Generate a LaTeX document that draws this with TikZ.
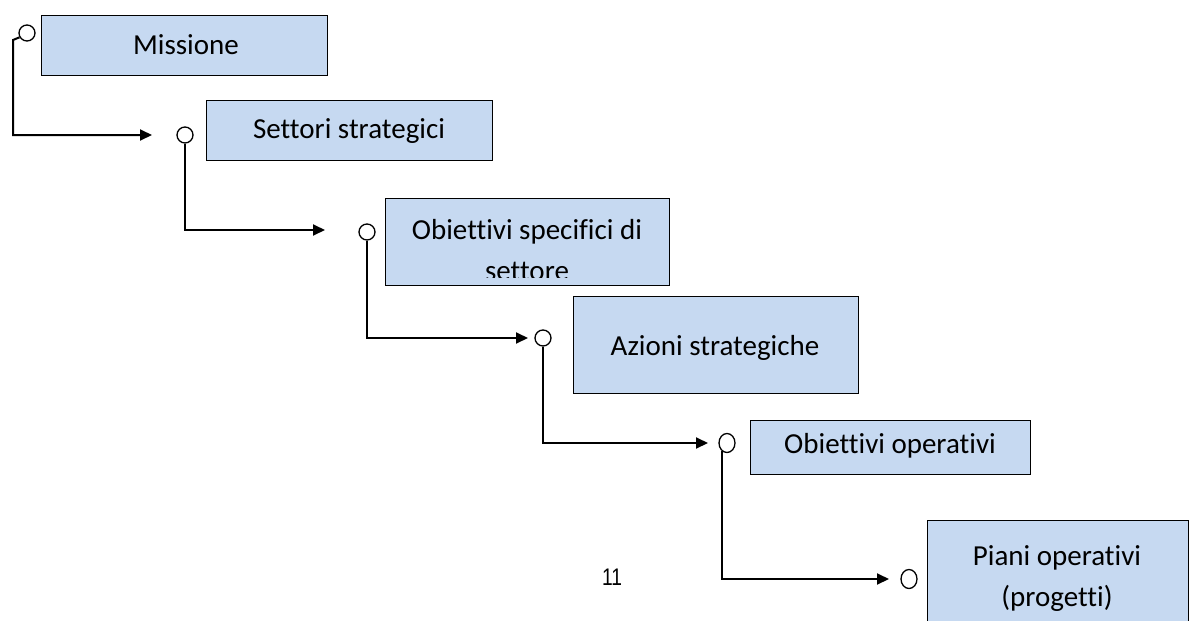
\documentclass[tikz,border=0pt]{standalone}
\usepackage{fontspec}
\setmainfont{Carlito}[Ligatures={NoCommon,NoContextual,NoRare}]
\newfontfamily\libsans{Liberation Sans}
\usetikzlibrary{arrows.meta,shapes.geometric}
\definecolor{boxblue}{RGB}{198,217,241}
\tikzset{
  box/.style={draw=black, line width=1.4pt, fill=boxblue, rectangle, inner sep=0pt, anchor=north west},
  lbl/.style={font=\fontsize{29}{41}\selectfont, align=center, inner sep=0pt},
  dot/.style={draw=black, line width=1.3pt, fill=white, circle, inner sep=0pt, minimum size=16pt},
  dotv/.style={draw=black, line width=1.3pt, fill=white, ellipse, inner sep=0pt, minimum width=16pt, minimum height=19pt},
  conn/.style={draw=black, line width=2pt, -{Triangle[length=12pt,width=11pt]}}
}
\begin{document}
\begin{tikzpicture}[x=1pt,y=-1pt]
\useasboundingbox (0,0) rectangle (1200,621);
\fill[white] (0,0) rectangle (1200,621);
% boxes
\node[box, minimum width=286pt, minimum height=60pt] (b1) at (41,15) {};
\node[lbl] (l1) at (186,45) {Missione};
\node[box, minimum width=286pt, minimum height=60pt] (b2) at (206,100) {};
\node[lbl] (l2) at (349,131) {Settori strategici};
\node[box, minimum width=284pt, minimum height=87pt] (b3) at (385,198) {};
\begin{scope}
\clip (386,199) rectangle (668,277);
\node[lbl] (l3) at (527,250) {Obiettivi specifici di\\settore};
\end{scope}
\node[box, minimum width=285pt, minimum height=97pt] (b4) at (573,296) {};
\node[lbl] (l4) at (715,348) {Azioni strategiche};
\node[box, minimum width=280pt, minimum height=54pt] (b5) at (750,420) {};
\node[lbl] (l5) at (890,446) {Obiettivi operativi};
\node[box, minimum width=261pt, minimum height=120pt] (b6) at (927,520) {};
\node[lbl] (l6) at (1057,579) {Piani operativi\\(progetti)};
% circles
\node[dot] (c1) at (27,33) {};
\node[dot] (c2) at (185,135) {};
\node[dot] (c3) at (367,232) {};
\node[dot] (c4) at (543,338) {};
\node[dotv] (c5) at (727,443) {};
\node[dotv] (c6) at (909,579) {};
% arrow ends
\coordinate (t1) at (152,135);
\coordinate (t2) at (325,230);
\coordinate (t3) at (528,338);
\coordinate (t4) at (708,443);
\coordinate (t5) at (889,579);
\coordinate (k1) at (13,40);
% connectors
\draw[conn] (c1.210) -- (k1) |- (t1);
\draw[conn] (c2.south) |- (t2);
\draw[conn] (c3.south) |- (t3);
\draw[conn] (c4.south) |- (t4);
\draw[conn] (c5.235) |- (t5);
% page number
\node[font=\libsans\fontsize{24}{24}\selectfont, inner sep=0pt] (pg) at (612,577) {\scalebox{0.8}[1]{11}};
\end{tikzpicture}
\end{document}
